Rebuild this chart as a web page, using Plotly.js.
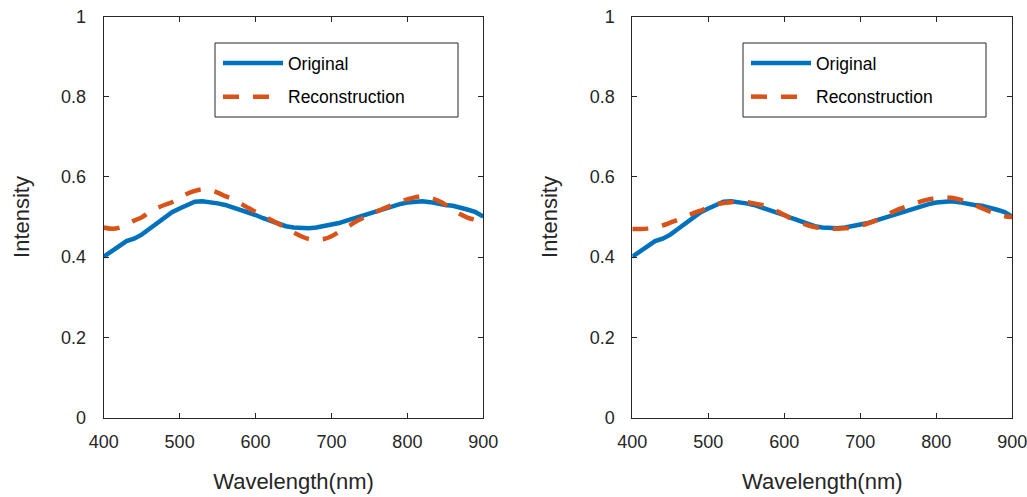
<!DOCTYPE html>
<html>
<head>
<meta charset="utf-8">
<script src="https://cdn.plot.ly/plotly-3.0.1.min.js"></script>
<style>
  html, body { margin: 0; padding: 0; background: #fff; }
  #chart { width: 1027px; height: 497px; }
</style>
</head>
<body>
<div id="chart"></div>
<script>
// Wavelength grid (nm)
const wavelength = [400,410,420,430,440,450,460,470,480,490,500,510,520,530,540,550,560,570,580,590,
  600,610,620,630,640,650,660,670,680,690,700,710,720,730,740,750,760,770,780,790,
  800,810,820,830,840,850,860,870,880,890,900];

// Measured spectrum (shared by both panels)
const original = [0.401,0.413,0.426,0.440,0.446,0.456,0.470,0.484,0.498,0.512,0.521,0.530,0.538,0.539,0.537,0.534,0.530,0.524,0.519,0.513,
  0.505,0.497,0.490,0.483,0.477,0.474,0.472,0.472,0.474,0.478,0.480,0.485,0.491,0.497,0.502,0.508,0.514,0.521,0.527,0.532,
  0.536,0.538,0.539,0.537,0.533,0.530,0.528,0.524,0.518,0.512,0.501];

// Reconstructed spectrum, left panel
const reconLeft = [0.474,0.471,0.473,0.481,0.491,0.499,0.512,0.522,0.530,0.537,0.548,0.558,0.565,0.569,0.567,0.561,0.552,0.545,0.534,0.523,
  0.513,0.503,0.493,0.483,0.473,0.462,0.452,0.445,0.443,0.445,0.452,0.463,0.474,0.486,0.496,0.505,0.514,0.522,0.530,0.538,
  0.544,0.549,0.552,0.548,0.541,0.531,0.518,0.507,0.498,0.493,0.491];

// Reconstructed spectrum, right panel
const reconRight = [0.470,0.470,0.471,0.474,0.479,0.486,0.493,0.501,0.509,0.516,0.524,0.531,0.535,0.537,0.538,0.537,0.534,0.530,0.523,0.515,
  0.505,0.495,0.487,0.480,0.475,0.472,0.471,0.471,0.472,0.474,0.478,0.484,0.491,0.500,0.510,0.519,0.526,0.533,0.539,0.544,
  0.547,0.549,0.548,0.544,0.537,0.530,0.522,0.514,0.507,0.502,0.500];

const seriesNames = ['Original', 'Reconstruction'];
const xTitle = 'Wavelength(nm)';
const yTitle = 'Intensity';

const BLUE = '#0072BD';
const ORANGE = '#D95319';
const INK = '#262626';
const FONT = 'Liberation Sans, Arial, sans-serif';
const W = 1027, H = 497;

function px(x) { return x / W; }
function py(y) { return 1 - y / H; }

function lineTrace(y, name, color, dash, xa, ya, legend) {
  return {
    x: wavelength, y: y, name: name, type: 'scatter', mode: 'lines',
    xaxis: xa, yaxis: ya, legend: legend, legendgroup: name,
    line: { color: color, width: 4.5, dash: dash, shape: dash === 'solid' ? 'linear' : 'spline' }
  };
}

const DASH = '16px,14px';
const traces = [
  lineTrace(original, seriesNames[0], BLUE, 'solid', 'x', 'y', 'legend'),
  lineTrace(reconLeft, seriesNames[1], ORANGE, DASH, 'x', 'y', 'legend'),
  lineTrace(original, seriesNames[0], BLUE, 'solid', 'x2', 'y2', 'legend2'),
  lineTrace(reconRight, seriesNames[1], ORANGE, DASH, 'x2', 'y2', 'legend2')
];

const yDom = [py(417.5), py(16.5)];

function xAxis(domain, anchor) {
  return {
    domain: domain, anchor: anchor, range: [400, 900], dtick: 100, tick0: 400,
    showline: true, linecolor: INK, linewidth: 1, mirror: 'ticks',
    ticks: 'inside', ticklen: 5, tickcolor: INK, showgrid: false, zeroline: false,
    tickfont: { family: FONT, size: 18, color: INK },
    ticklabelstandoff: 8, ticklabeloverflow: 'allow',
    title: { text: xTitle, font: { family: FONT, size: 22, color: INK }, standoff: 22 }
  };
}
function yAxis(anchor) {
  return {
    domain: yDom, anchor: anchor, range: [0, 1], dtick: 0.2, tick0: 0,
    showline: true, linecolor: INK, linewidth: 1, mirror: 'ticks',
    ticks: 'inside', ticklen: 5, tickcolor: INK, showgrid: false, zeroline: false,
    tickfont: { family: FONT, size: 18, color: INK },
    ticklabelstandoff: 13, ticklabeloverflow: 'allow',
    title: { text: yTitle, font: { family: FONT, size: 22, color: INK }, standoff: 25 }
  };
}

function legendAt(left, top) {
  return {
    x: px(left), y: py(top), xanchor: 'left', yanchor: 'top',
    bgcolor: 'rgba(0,0,0,0)', borderwidth: 0,
    font: { family: FONT, size: 17.5, color: '#000' },
    itemwidth: 60, traceorder: 'grouped', tracegroupgap: 8
  };
}

// Legend frames, one per panel
function frame(x0, y0, x1, y1) {
  return {
    type: 'rect', xref: 'paper', yref: 'paper',
    x0: px(x0), x1: px(x1), y0: py(y1), y1: py(y0),
    line: { color: INK, width: 1 }, fillcolor: 'rgba(0,0,0,0)'
  };
}

const layout = {
  width: W, height: H,
  margin: { l: 0, r: 0, t: 0, b: 0 },
  paper_bgcolor: '#fff', plot_bgcolor: '#fff',
  showlegend: true,
  xaxis: xAxis([px(103.7), px(483.3)], 'y'),
  yaxis: yAxis('x'),
  xaxis2: xAxis([px(632.3), px(1012.3)], 'y2'),
  yaxis2: yAxis('x2'),
  legend: legendAt(218, 45),
  legend2: legendAt(746, 45),
  shapes: [frame(215, 43, 458, 117), frame(743, 43, 986, 117)]
};

Plotly.newPlot('chart', traces, layout, { displayModeBar: false, staticPlot: true });
</script>
</body>
</html>
